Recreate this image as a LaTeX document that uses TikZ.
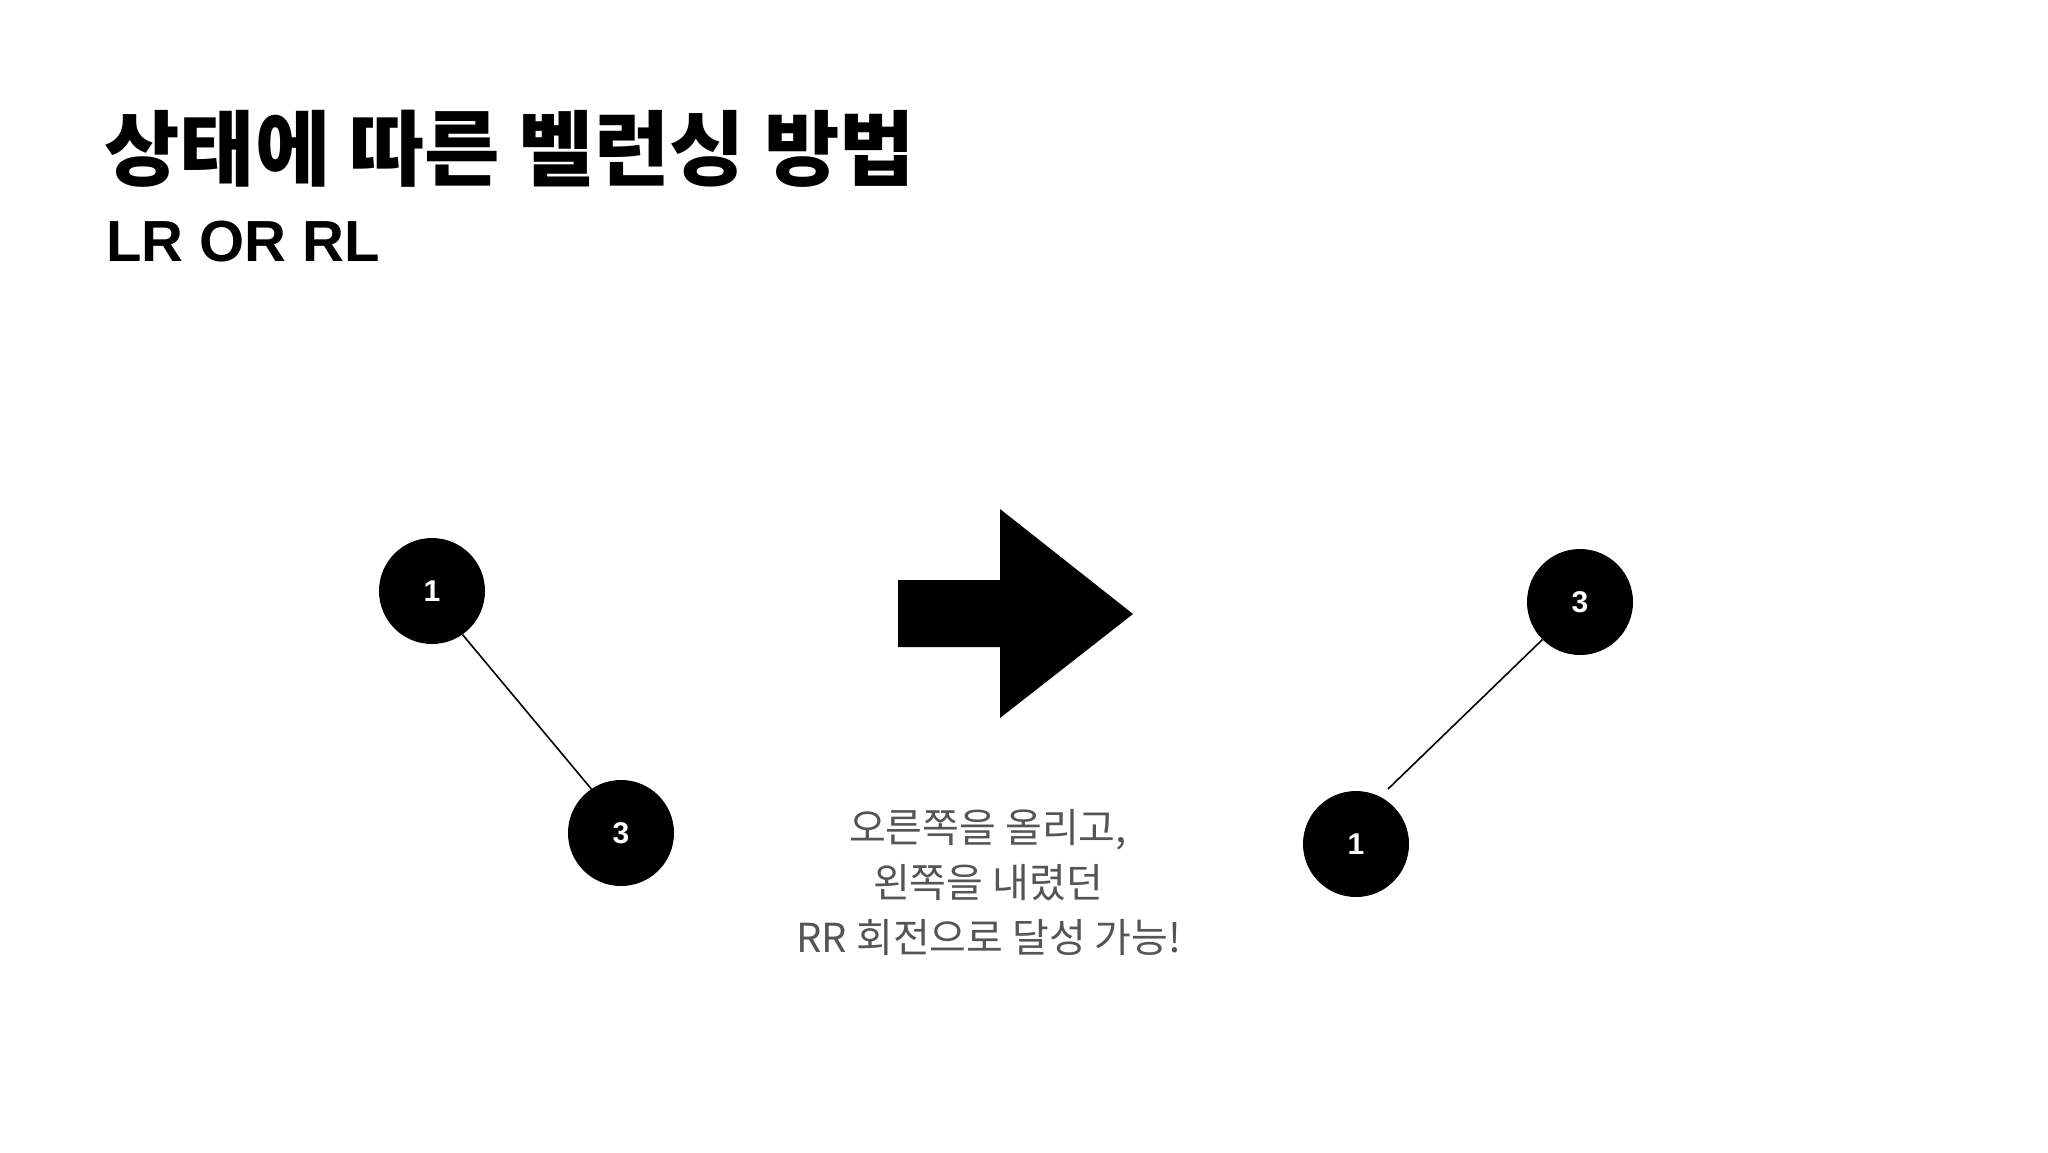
\documentclass[tikz,border=0pt]{standalone}
\usepackage{fontspec}
\newfontfamily\krfont{Noto Sans CJK KR}
\newfontfamily\helv{Liberation Sans}
\usepackage{tikz}
\usetikzlibrary{positioning,calc}
\definecolor{bodygray}{HTML}{555555}
\tikzset{
  treenode/.style={circle,fill=black,text=white,minimum size=106pt,inner sep=0pt,
    font=\helv\bfseries\fontsize{30}{30}\selectfont},
  link/.style={line width=1.6pt},
  note/.style={anchor=base,inner sep=0pt,text=bodygray,font=\krfont\fontsize{40}{40}\selectfont}
}
\begin{document}
\begin{tikzpicture}[x=1pt,y=-1pt]
  \useasboundingbox (0,0) rectangle (2048,1152);
  \node[anchor=base west,inner sep=0pt,font=\krfont\bfseries\fontsize{82}{82}\selectfont] (title) at (104,179) {상태에 따른 벨런싱 방법};
  \node[anchor=base west,inner sep=0pt,font=\helv\bfseries\fontsize{58}{58}\selectfont] (sub) at (106,261) {LR OR RL};
  \node[treenode] (l1) at (432,591) {1}; \node[treenode] (l3) at (621,833) {3};
  \draw[link] (l1.305) -- (l3.124);
  \fill (898,580) -- (1000,580) -- (1000,509) -- (1133,614) -- (1000,718) -- (1000,647) -- (898,647) -- cycle;
  \node[note] (t1) at (988,842) {오른쪽을 올리고,};
  \node[note] (t2) at (988,897) {왼쪽을 내렸던};
  \node[note] (t3) at (989,952) {RR 회전으로 달성 가능!};
  \node[treenode] (r3) at (1580,602) {3}; \node[treenode] (r1) at (1356,844) {1};
  \coordinate (r1top) at (1388,789); % 선 끝은 노드에 닿지 않음
  \draw[link] (r3.225) -- (r1top);
\end{tikzpicture}
\end{document}
